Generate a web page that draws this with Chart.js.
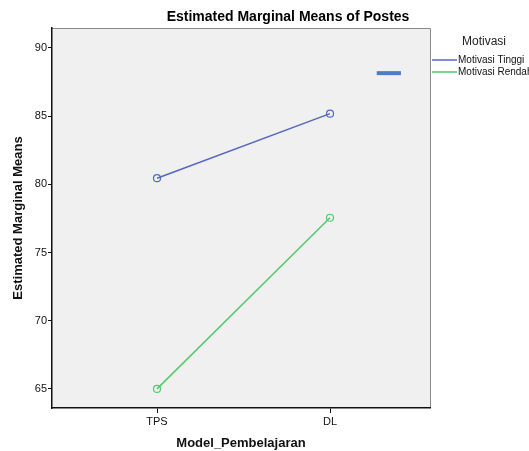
<!DOCTYPE html>
<html lang="en">
<head>
    <meta charset="utf-8">
    <title>Estimated Marginal Means of Postes</title>
    <style>
        html, body { margin: 0; padding: 0; background: #fff; }
        canvas { display: block; }
    </style>
</head>
<body>
    <canvas id="chart" width="529" height="451"></canvas>

    <script src="https://cdn.jsdelivr.net/npm/chart.js"></script>
    <script>
        const categories = ["TPS", "DL"];
        const seriesNames = ["Motivasi Tinggi", "Motivasi Rendah"];
        const tinggiValues = [80.45, 85.18];
        const rendahValues = [65.0, 77.55];
        const yTicks = [65, 70, 75, 80, 85, 90];
        // stray legend swatch SPSS leaves inside the plot
        const dashX = [2.27, 2.41];
        const dashY = [88.15, 88.15];

        const blue = "#5466c4";
        const green = "#55c96b";
        const font = "'Liberation Sans', Arial, sans-serif";

        function toPoints(values) {
            return values.map((v, i) => ({ x: i + 1, y: v }));
        }

        const plotFrame = {
            id: "plotFrame",
            beforeDraw(chart) {
                const { ctx, chartArea: a } = chart;
                ctx.save();
                ctx.fillStyle = "#f0f0f0";
                ctx.fillRect(a.left, a.top, a.right - a.left, a.bottom - a.top);
                ctx.strokeStyle = "#8a8a8a";
                ctx.lineWidth = 1;
                ctx.beginPath();
                ctx.moveTo(a.left, a.top + 0.5);
                ctx.lineTo(a.right + 0.5, a.top + 0.5);
                ctx.lineTo(a.right + 0.5, a.bottom);
                ctx.stroke();
                ctx.restore();
            },
            afterDraw(chart) {
                const { ctx } = chart;
                ctx.save();
                ctx.fillStyle = "#000";
                ctx.font = "bold 14px " + font;
                ctx.textAlign = "center";
                ctx.textBaseline = "middle";
                ctx.fillText("Estimated Marginal Means of Postes", 288, 17);

                // legend
                ctx.font = "12px " + font;
                ctx.fillStyle = "#222";
                ctx.fillText("Motivasi", 484, 42);
                ctx.font = "10px " + font;
                ctx.textAlign = "left";
                const colors = [blue, green];
                seriesNames.forEach((name, i) => {
                    const y = 60 + i * 12;
                    ctx.strokeStyle = colors[i];
                    ctx.lineWidth = 1.5;
                    ctx.beginPath();
                    ctx.moveTo(432, y);
                    ctx.lineTo(457, y);
                    ctx.stroke();
                    ctx.fillStyle = "#111";
                    ctx.fillText(name, 458, y);
                });
                ctx.restore();
            }
        };

        new Chart(document.getElementById("chart"), {
            type: "line",
            data: {
                datasets: [
                    {
                        label: seriesNames[0],
                        data: toPoints(tinggiValues),
                        borderColor: blue,
                        backgroundColor: "transparent",
                        borderWidth: 1.5,
                        pointRadius: 3.5,
                        pointBorderWidth: 1.2,
                        pointBackgroundColor: "transparent",
                        pointBorderColor: blue,
                    },
                    {
                        label: seriesNames[1],
                        data: toPoints(rendahValues),
                        borderColor: green,
                        backgroundColor: "transparent",
                        borderWidth: 1.5,
                        pointRadius: 3.5,
                        pointBorderWidth: 1.2,
                        pointBackgroundColor: "transparent",
                        pointBorderColor: green,
                    },
                    {
                        label: "dash",
                        data: dashX.map((x, i) => ({ x: x, y: dashY[i] })),
                        borderColor: "#4a7fc1",
                        borderWidth: 4,
                        pointRadius: 0,
                        borderCapStyle: "butt",
                    },
                ],
            },
            options: {
                responsive: false,
                animation: false,
                layout: { padding: { top: 28, right: 99, left: 0, bottom: 0 } },
                plugins: {
                    legend: { display: false },
                    tooltip: { enabled: false },
                },
                scales: {
                    x: {
                        type: "linear",
                        min: 0.393,
                        max: 2.578,
                        afterBuildTicks: (scale) => {
                            scale.ticks = categories.map((_, i) => ({ value: i + 1 }));
                        },
                        afterFit: (scale) => { scale.height = 43; },
                        ticks: {
                            callback: (v) => categories[v - 1],
                            color: "#111",
                            font: { family: font, size: 11 },
                            padding: 2,
                            maxRotation: 0,
                        },
                        grid: { drawOnChartArea: false, drawTicks: true, tickLength: 5, color: "#111" },
                        border: { display: true, color: "#111", width: 1.5 },
                        title: {
                            display: true,
                            text: "Model_Pembelajaran",
                            color: "#111",
                            font: { family: font, size: 13, weight: "bold" },
                            padding: { top: 8, bottom: 0 },
                        },
                    },
                    y: {
                        min: 63.6,
                        max: 91.46,
                        afterBuildTicks: (scale) => {
                            scale.ticks = yTicks.map((v) => ({ value: v }));
                        },
                        afterFit: (scale) => { scale.width = 52; },
                        ticks: {
                            color: "#111",
                            font: { family: font, size: 11 },
                            padding: 1,
                        },
                        grid: { drawOnChartArea: false, drawTicks: true, tickLength: 4, color: "#111" },
                        border: { display: true, color: "#111", width: 1.5 },
                        title: {
                            display: true,
                            text: "Estimated Marginal Means",
                            color: "#111",
                            font: { family: font, size: 13, weight: "bold" },
                            padding: { top: 11, bottom: 4 },
                        },
                    },
                },
            },
            plugins: [plotFrame],
        });
    </script>
</body>
</html>
